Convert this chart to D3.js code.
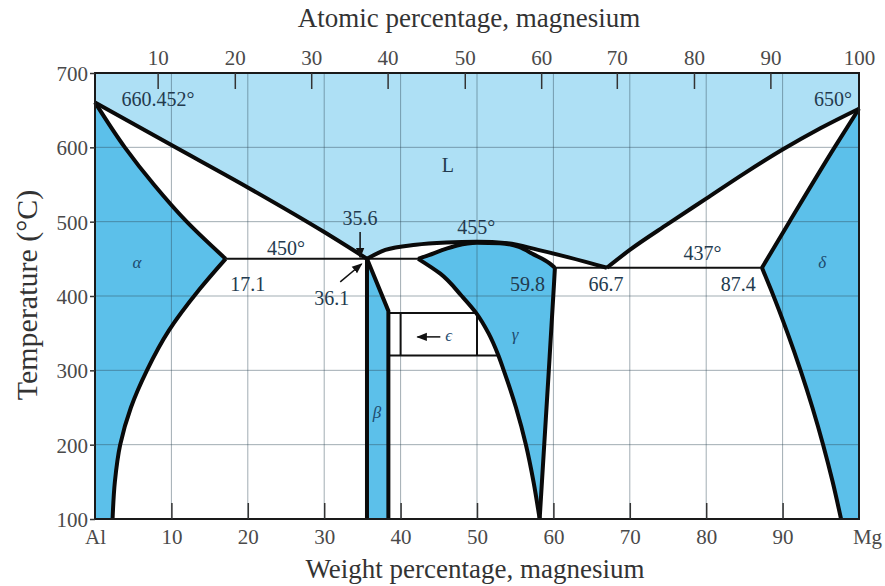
<!DOCTYPE html>
<html><head><meta charset="utf-8">
<script src="https://cdn.jsdelivr.net/npm/d3@7"></script>
<style>
html,body{margin:0;padding:0;background:#fff;}
svg{display:block;}
svg text{font-family:"Liberation Serif","Times New Roman",Tinos,"DejaVu Serif","Noto Serif",serif;}
</style></head>
<body>
<svg id="chart" width="885" height="586"></svg>
<script>
// ---------- data (weight % Mg, temperature °C) ----------
const weightTicks = [0,10,20,30,40,50,60,70,80,90,100];
const weightLabels = ["Al","10","20","30","40","50","60","70","80","90","Mg"];
const tempTicks = [100,200,300,400,500,600,700];
const atomicTicks = [10,20,30,40,50,60,70,80,90,100];
const atomicTickWeight = [8.2,18.3,28.3,38.3,48.4,58.4,68.3,78.4,88.4,100];

const alLiquidus = [[0,660.452],[10,603],[20,546],[30,486],[35.6,450]];
const alSolidus  = [[0,660.452],[3.9,600],[7.7,550],[12,500],[17.1,450]];
const alSolvus   = [[17.1,450],[13.6,408],[9.7,354],[6.8,300],[4.7,250],[3.3,200],[2.6,150],[2.3,100]];
const dome       = [[35.6,450],[38,462],[42,469],[46,472],[50,473],[54,471],[58,462],[62,452],[67,438]];
const mgLiquidus = [[67,438],[70,462],[75,497],[80,531],[85,565],[90,597],[95,626],[100,652]];
const mgSolidus  = [[100,652],[96.8,600],[90.9,500],[87.3,438]];
const mgSolvus   = [[87.3,438],[88.5,408],[90.65,350],[92.35,300],[93.9,250],[95.3,200],[96.55,150],[97.65,100]];
const betaLeft   = [[35.6,450],[35.6,100]];
const betaRight  = [[35.6,450],[38.4,380],[38.4,100]];
const gammaTop   = [[42.3,450],[43.7,455],[45.5,462],[47.4,468],[50,471.5],[53,471],[55.5,466],[57.4,456],[59.5,444],[60.2,438]];
const gammaRight = [[60.2,438],[60.1,420],[59.4,300],[58.8,200],[58.2,100]];
const gammaLeft  = [[58.2,100],[57.4,150],[56.4,200],[55.1,250],[53.5,300],[52.8,320],[51.5,350],[49.9,377],[48,400],[45.2,430],[42.3,450]];
const eutecticAl = [[17.1,450],[42.3,450]];
const eutecticMg = [[60.2,438],[87.3,438]];
const epsTop     = [[38.4,377],[50,377]];
const epsBottom  = [[38.4,320],[52.8,320]];
const epsSides   = [[[40,377],[40,320]],[[50,377],[50,320]]];

const labels = [
  {t:"660.452°", w:8.25, T:655.6},
  {t:"650°", w:96.6, T:655.6},
  {t:"L", w:46.2, T:566.8},
  {t:"35.6", w:34.7, T:495.5},
  {t:"450°", w:25, T:455},
  {t:"17.1", w:20, T:406.7},
  {t:"36.1", w:31, T:387.8},
  {t:"455°", w:49.9, T:483.4},
  {t:"59.8", w:56.6, T:406.7},
  {t:"66.7", w:66.9, T:406.7},
  {t:"437°", w:79.5, T:448.4},
  {t:"87.4", w:84.2, T:406.7}
];
const phaseLabels = [
  {t:"α", w:5.5, T:437.6},
  {t:"β", w:36.9, T:235.8},
  {t:"γ", w:55, T:340.8},
  {t:"δ", w:95.2, T:437.6},
  {t:"ϵ", w:46.3, T:339.5}
];
const arrows = [
  [[34.7,486],[34.7,452]],
  [[32.1,419],[34.9,443]],
  [[45.2,345],[42.2,345]]
];

// ---------- drawing ----------
const svg = d3.select("#chart");
const x = d3.scaleLinear().domain([0,100]).range([95,859]);
const y = d3.scaleLinear().domain([100,700]).range([519,73]);
const xTop = d3.scaleLinear().domain(atomicTicks).range(atomicTickWeight.map(w=>x(w)));

const byW = d3.curveMonotoneX;   // curves that are functions of composition
const byT = d3.curveMonotoneY;   // curves that are functions of temperature
const lineGen = (c) => d3.line().x(d=>x(d[0])).y(d=>y(d[1])).curve(c||d3.curveLinear);
function seg(pts, c){ return lineGen(c)(pts); }
function joined(parts){
  return parts.map((p,i)=> i===0 ? p : p.replace(/^M/,"L")).join("") + "Z";
}

const DARK = "#5cc0ea", LIGHT = "#aee0f5";

svg.append("defs").append("marker")
  .attr("id","ah").attr("viewBox","0 0 10 10").attr("refX",9).attr("refY",5)
  .attr("markerWidth",7).attr("markerHeight",7).attr("orient","auto")
  .append("path").attr("d","M0,1L10,5L0,9Z").attr("fill","#111");

const plot = svg.append("g");
plot.append("rect").attr("x",x(0)).attr("y",y(700)).attr("width",x(100)-x(0)).attr("height",y(100)-y(700)).attr("fill","#fff");

// liquid region
plot.append("path").attr("fill",LIGHT).attr("d", joined([
  seg([[0,700],[0,660.452]]),
  seg(alLiquidus, byW),
  seg(dome, byW),
  seg(mgLiquidus, byW),
  seg([[100,652],[100,700]])
]));
// alpha
plot.append("path").attr("fill",DARK).attr("d", joined([
  seg(alSolidus, byT), seg(alSolvus, byT), seg([[2.3,100],[0,100]])
]));
// beta
plot.append("path").attr("fill",DARK).attr("d", joined([
  seg(betaRight), seg([[38.4,100],[35.6,100]])
]));
// gamma
plot.append("path").attr("fill",DARK).attr("d", joined([
  seg(gammaTop, byW), seg(gammaRight, byT), seg(gammaLeft, byT)
]));
// delta
plot.append("path").attr("fill",DARK).attr("d", joined([
  seg(mgSolidus, byT), seg(mgSolvus, byT), seg([[97.65,100],[100,100]])
]));

// grid
const grid = plot.append("g").attr("stroke","#2f4656").attr("stroke-opacity",0.45).attr("stroke-width",1);
weightTicks.slice(1,-1).forEach(w=>{
  grid.append("line").attr("x1",x(w)).attr("x2",x(w)).attr("y1",y(700)).attr("y2",y(100));
});
tempTicks.slice(1,-1).forEach(t=>{
  grid.append("line").attr("x1",x(0)).attr("x2",x(100)).attr("y1",y(t)).attr("y2",y(t));
});

// thin boundary lines
const thin = plot.append("g").attr("fill","none").attr("stroke","#111").attr("stroke-width",2);
[eutecticAl, eutecticMg, epsTop, epsBottom, ...epsSides].forEach(p=>{
  thin.append("path").attr("d", seg(p));
});

// thick boundary lines
const thick = plot.append("g").attr("fill","none").attr("stroke","#0a0a0a").attr("stroke-width",4).attr("stroke-linejoin","round");
[[alLiquidus,byW],[alSolidus,byT],[alSolvus,byT],[dome,byW],[mgLiquidus,byW],[mgSolidus,byT],[mgSolvus,byT],
 [gammaTop,byW],[gammaRight,byT],[gammaLeft,byT]].forEach(([p,c])=>{
  thick.append("path").attr("d", seg(p, c));
});
[betaLeft, betaRight].forEach(p=> thick.append("path").attr("d", seg(p)));

// arrows
arrows.forEach(a=>{
  plot.append("path").attr("d", seg(a)).attr("stroke","#111").attr("stroke-width",1.5).attr("fill","none").attr("marker-end","url(#ah)");
});

// frame
plot.append("rect").attr("x",x(0)).attr("y",y(700)).attr("width",x(100)-x(0)).attr("height",y(100)-y(700))
  .attr("fill","none").attr("stroke","#1a1a1a").attr("stroke-width",2);

// axes
const axB = d3.axisBottom(x).tickValues(weightTicks).tickFormat((d,i)=>weightLabels[i]).tickSizeInner(-16).tickSizeOuter(0).tickPadding(14);
const gB = svg.append("g").attr("transform",`translate(0,${y(100)})`).call(axB);
const axT = d3.axisTop(xTop).tickValues(atomicTicks).tickSizeInner(-16).tickSizeOuter(0).tickPadding(8);
const gT = svg.append("g").attr("transform",`translate(0,${y(700)})`).call(axT);
const axL = d3.axisLeft(y).tickValues(tempTicks).tickSizeInner(5).tickSizeOuter(0).tickPadding(2);
const gL = svg.append("g").attr("transform",`translate(${x(0)},0)`).call(axL);
[gB,gT,gL].forEach(g=>{
  g.attr("font-family",null);
  g.select(".domain").remove();
  g.selectAll(".tick line").attr("stroke","#333").attr("stroke-width",1.5);
  g.selectAll(".tick text").attr("font-size",21).attr("fill","#4a4a4a");
});
gB.selectAll(".tick").filter(d=>d===0||d===100).select("line").remove();
gB.selectAll(".tick text").attr("dy","0.5em");
gB.selectAll(".tick").filter(d=>d===100).select("text").attr("dx",8);
gT.selectAll(".tick").filter(d=>d===100).select("line").remove();
gL.selectAll(".tick text").attr("dy","0.36em");

// axis titles
svg.append("text").attr("x",469).attr("y",27).attr("text-anchor","middle").attr("font-size",27).attr("fill","#333").text("Atomic percentage, magnesium");
svg.append("text").attr("x",475).attr("y",578).attr("text-anchor","middle").attr("font-size",27).attr("fill","#333").text("Weight percentage, magnesium");
svg.append("text").attr("transform","translate(37,295) rotate(-90)").attr("text-anchor","middle").attr("font-size",30).attr("fill","#333").text("Temperature (°C)");

// in-plot labels
labels.forEach(l=>{
  svg.append("text").attr("x",x(l.w)).attr("y",y(l.T)).attr("text-anchor","middle")
    .attr("font-size",20).attr("fill","#233a4e").text(l.t);
});
phaseLabels.forEach(l=>{
  svg.append("text").attr("x",x(l.w)).attr("y",y(l.T)).attr("text-anchor","middle")
    .attr("font-size",17).attr("font-style","italic").attr("fill","#1d4a6e").text(l.t);
});
</script>
</body></html>
